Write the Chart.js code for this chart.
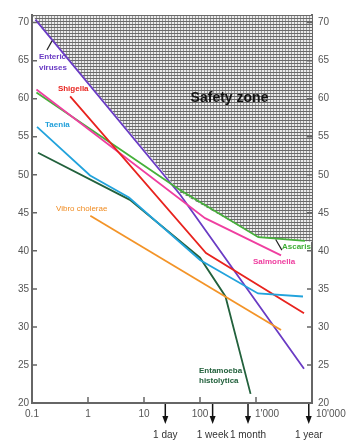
<!DOCTYPE html>
<html>
<head>
<meta charset="utf-8">
<script src="https://cdn.jsdelivr.net/npm/chart.js@4.4.1/dist/chart.umd.min.js"></script>
<style>
  body { margin: 0; background: #fff; }
  #wrap { width: 348px; height: 446px; }
</style>
</head>
<body>
<div id="wrap"><canvas id="chart" width="348" height="446"></canvas></div>
<script>
// ---- data (x = hours, log scale; y = temperature) ----
const xTicks = [0.1, 1, 10, 100, 1000, 10000];
const xTickLabels = ['0.1', '1', '10', '100', "1'000", "10'000"];
const yTicks = [20, 25, 30, 35, 40, 45, 50, 55, 60, 65, 70];

const timeMarks = [24, 168, 720, 8760];
const timeLabels = ['1 day', '1 week', '1 month', '1 year'];

const zoneX = [0.1, 44, 1100, 10000];
const zoneY = [71, 47.7, 41.8, 41.2];

const entericX = [0.115, 44, 7200];
const entericY = [70.4, 47.4, 24.5];

const shigellaX = [0.48, 128, 7200];
const shigellaY = [60.3, 39.7, 31.8];

const taeniaX = [0.123, 1.09, 5.4, 100, 1086, 6900];
const taeniaY = [56.3, 49.9, 47.0, 38.8, 34.4, 34.0];

const salmonellaX = [0.12, 123, 2800];
const salmonellaY = [61.2, 44.3, 39.4];

const ascarisX = [0.12, 44, 1100, 7500];
const ascarisY = [60.8, 48.0, 41.8, 41.3];

const vibrioX = [1.1, 2800];
const vibrioY = [44.6, 29.6];

const entamoebaX = [0.128, 5.6, 100, 285, 800];
const entamoebaY = [52.9, 46.7, 39.1, 34.0, 21.2];

function pts(xs, ys) {
    return xs.map((x, i) => ({ x: x, y: ys[i] }));
}

// hatched "safety zone" fill
function makeHatch() {
    const c = document.createElement('canvas');
    c.width = 3; c.height = 3;
    const g = c.getContext('2d');
    g.fillStyle = '#ececec';
    g.fillRect(0, 0, 3, 3);
    g.fillStyle = '#9a9a9a';
    g.fillRect(0, 0, 1, 3);
    g.fillStyle = '#6a6a6a';
    g.fillRect(0, 0, 3, 1);
    return g.createPattern(c, 'repeat');
}

function series(label, xs, ys, color) {
    return {
        label: label,
        data: pts(xs, ys),
        borderColor: color,
        borderWidth: 1.8,
        pointRadius: 0,
        fill: false,
        tension: 0
    };
}

const FONT = '"Liberation Sans", Arial, sans-serif';

// text labels placed in data coordinates
const notes = [
    { t: 'Enteric', x: 0.133, y: 65.5, c: '#6a3bc4', f: 'bold 8px ' + FONT },
    { t: 'viruses', x: 0.133, y: 64.0, c: '#6a3bc4', f: 'bold 8px ' + FONT },
    { t: 'Shigella', x: 0.29, y: 61.3, c: '#e8231e', f: 'bold 8px ' + FONT },
    { t: 'Taenia', x: 0.171, y: 56.6, c: '#22a0da', f: 'bold 8px ' + FONT },
    { t: 'Vibro cholerae', x: 0.268, y: 45.5, c: '#f08c22', f: '8px ' + FONT },
    { t: 'Safety zone', x: 68, y: 60.1, c: '#111', f: 'bold 14px ' + FONT },
    { t: 'Ascaris', x: 2910, y: 40.5, c: '#3fae35', f: 'bold 8px ' + FONT },
    { t: 'Salmonella', x: 880, y: 38.6, c: '#ee3c9e', f: 'bold 8px ' + FONT },
    { t: 'Entamoeba', x: 96, y: 24.2, c: '#22613c', f: 'bold 8px ' + FONT },
    { t: 'histolytica', x: 96, y: 22.9, c: '#22613c', f: 'bold 8px ' + FONT }
];

// little pointer strokes next to labels
const pointers = [
    { x1: 0.185, y1: 66.4, x2: 0.228, y2: 67.6 },
    { x1: 2250, y1: 41.5, x2: 2900, y2: 40.1 }
];

const decorPlugin = {
    id: 'decor',
    afterDraw(chart) {
        const ctx = chart.ctx;
        const xs = chart.scales.x;
        const ys = chart.scales.y;
        const area = chart.chartArea;
        ctx.save();

        // ticks (inward) and tick labels
        ctx.strokeStyle = '#666';
        ctx.lineWidth = 1.5;
        ctx.fillStyle = '#555';
        ctx.font = '10px ' + FONT;
        yTicks.forEach(v => {
            const py = ys.getPixelForValue(v);
            ctx.beginPath();
            ctx.moveTo(area.left, py); ctx.lineTo(area.left + 5, py);
            ctx.moveTo(area.right, py); ctx.lineTo(area.right - 5, py);
            ctx.stroke();
            ctx.textBaseline = 'middle';
            ctx.textAlign = 'right';
            ctx.fillText(String(v), area.left - 3, py);
            ctx.textAlign = 'left';
            ctx.fillText(String(v), area.right + 6, py);
        });
        xTicks.forEach((v, i) => {
            const px = xs.getPixelForValue(v);
            if (i > 0 && i < xTicks.length - 1) {
                ctx.beginPath();
                ctx.moveTo(px, area.bottom); ctx.lineTo(px, area.bottom - 6);
                ctx.stroke();
            }
            ctx.textBaseline = 'middle';
            const lab = xTickLabels[i];
            if (lab.indexOf("'") >= 0) {
                ctx.textAlign = 'left';
                ctx.fillText(lab, px + (i === xTicks.length - 1 ? 4 : -1), area.bottom + 11);
            } else {
                ctx.textAlign = 'center';
                ctx.fillText(lab, px, area.bottom + 11);
            }
        });

        // time arrows under the axis
        ctx.strokeStyle = '#111';
        ctx.fillStyle = '#111';
        ctx.lineWidth = 1.5;
        timeMarks.forEach((v, i) => {
            const px = xs.getPixelForValue(v);
            ctx.beginPath();
            ctx.moveTo(px, area.bottom + 1);
            ctx.lineTo(px, area.bottom + 14);
            ctx.stroke();
            ctx.beginPath();
            ctx.moveTo(px - 3, area.bottom + 13);
            ctx.lineTo(px + 3, area.bottom + 13);
            ctx.lineTo(px, area.bottom + 21);
            ctx.closePath();
            ctx.fill();
            ctx.fillStyle = '#333';
            ctx.textAlign = 'center';
            ctx.textBaseline = 'middle';
            ctx.font = '10px ' + FONT;
            ctx.fillText(timeLabels[i], px, area.bottom + 32);
            ctx.fillStyle = '#111';
        });

        // pointer strokes
        ctx.strokeStyle = '#222';
        ctx.lineWidth = 1.2;
        pointers.forEach(p => {
            ctx.beginPath();
            ctx.moveTo(xs.getPixelForValue(p.x1), ys.getPixelForValue(p.y1));
            ctx.lineTo(xs.getPixelForValue(p.x2), ys.getPixelForValue(p.y2));
            ctx.stroke();
        });

        // series labels
        ctx.textAlign = 'left';
        ctx.textBaseline = 'middle';
        notes.forEach(n => {
            ctx.font = n.f;
            ctx.fillStyle = n.c;
            ctx.fillText(n.t, xs.getPixelForValue(n.x), ys.getPixelForValue(n.y));
        });
        ctx.restore();
    }
};

const hatch = makeHatch();

new Chart(document.getElementById('chart'), {
    type: 'line',
    data: {
        datasets: [
            {
                label: 'Safety zone',
                data: pts(zoneX, zoneY),
                borderWidth: 0,
                borderColor: 'rgba(0,0,0,0)',
                backgroundColor: hatch,
                pointRadius: 0,
                fill: 'end',
                tension: 0,
                order: 10
            },
            series('Vibrio cholerae', vibrioX, vibrioY, '#f39428'),
            series('Taenia', taeniaX, taeniaY, '#22a3dc'),
            series('Entamoeba histolytica', entamoebaX, entamoebaY, '#22613c'),
            series('Shigella', shigellaX, shigellaY, '#e8231e'),
            series('Salmonella', salmonellaX, salmonellaY, '#ef3fa0'),
            series('Ascaris', ascarisX, ascarisY, '#46b03a'),
            series('Enteric viruses', entericX, entericY, '#6a3bc4')
        ]
    },
    options: {
        responsive: false,
        animation: false,
        layout: { padding: { top: 15, left: 0, right: 0, bottom: 0 } },
        plugins: {
            legend: { display: false },
            tooltip: { enabled: false }
        },
        scales: {
            x: {
                type: 'logarithmic',
                min: 0.1,
                max: 10000,
                ticks: { display: false },
                grid: { display: false },
                border: { color: '#666', width: 2 },
                afterFit(s) { s.height = 43; }
            },
            y: {
                position: 'left',
                min: 20,
                max: 71,
                ticks: { display: false },
                grid: { display: false },
                border: { color: '#666', width: 2 },
                afterFit(s) { s.width = 32; }
            },
            y2: {
                position: 'right',
                min: 20,
                max: 71,
                ticks: { display: false },
                grid: { display: false },
                border: { color: '#666', width: 2 },
                afterFit(s) { s.width = 36; }
            }
        }
    },
    plugins: [decorPlugin]
});
</script>
</body>
</html>
